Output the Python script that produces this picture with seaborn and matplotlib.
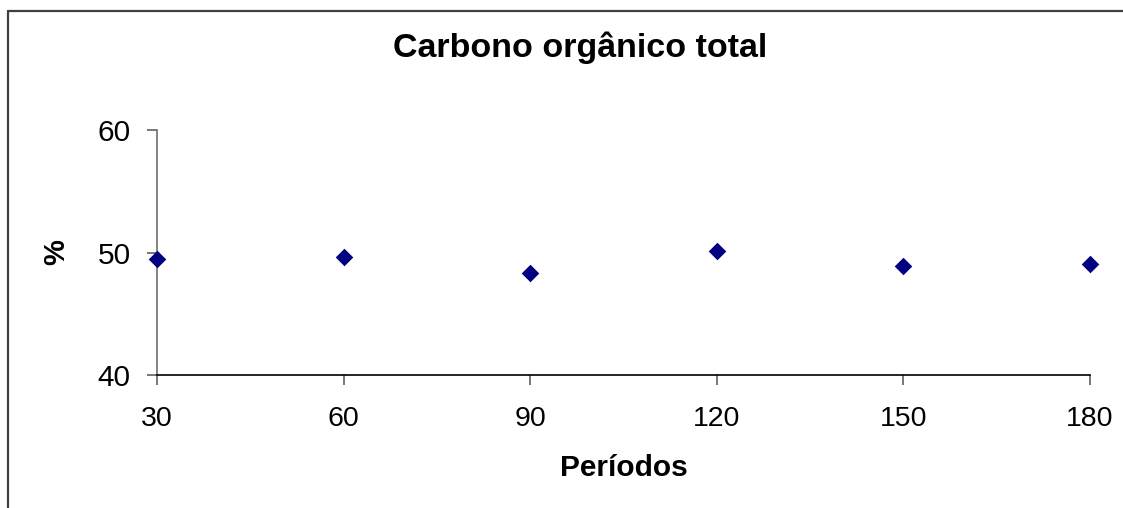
import matplotlib
matplotlib.use("Agg")
import matplotlib.pyplot as plt
import seaborn as sns
import pandas as pd
from matplotlib.lines import Line2D

# Total organic carbon (%) per period (days)
periodos = [30, 60, 90, 120, 150, 180]
carbono = [49.5, 49.65, 48.3, 50.1, 48.9, 49.05]

df = pd.DataFrame({"periodo": periodos, "carbono": carbono})

sns.set_style("white")
plt.rcParams["font.family"] = ["Liberation Sans", "DejaVu Sans"]
plt.rcParams["text.color"] = "black"
plt.rcParams["axes.labelcolor"] = "black"

fig = plt.figure(figsize=(11.23, 5.08), dpi=100)
ax = fig.add_axes([157 / 1123, 1 - 375 / 508, (1090 - 157) / 1123, (375 - 130) / 508])

sns.scatterplot(data=df, x="periodo", y="carbono", ax=ax, marker="D",
                s=80, color="#000080", edgecolor="#000080", linewidth=0,
                clip_on=False, zorder=3)

ax.set_xlim(30, 180)
ax.set_ylim(40, 60)
ax.set_xticks(periodos)
ax.set_yticks([40, 50, 60])
ax.tick_params(axis="both", labelcolor="black", length=7,
               width=1.2, direction="out")
ax.tick_params(axis="x", labelsize=20.5, pad=15, color="#606060")
ax.tick_params(axis="y", labelsize=21.5, pad=12, color="#606060")
ax.tick_params(bottom=True, left=True)

for side in ("top", "right"):
    ax.spines[side].set_visible(False)
ax.spines["left"].set_color("#707070")
ax.spines["left"].set_linewidth(1.2)
ax.spines["bottom"].set_color("black")
ax.spines["bottom"].set_linewidth(1.2)

ax.set_xlabel("Períodos", fontsize=21.5, fontweight="bold", labelpad=16)
ax.set_ylabel("%", fontsize=21, fontweight="bold")
ax.yaxis.set_label_coords((70 - 157) / 933, 0.5)

fig.text(580 / 1123, 1 - 48 / 508, "Carbono orgânico total", ha="center",
         va="center", fontsize=24.5, fontweight="bold")

# Outer frame of the chart area
x0 = 8 / 1123
y0 = 1 - 11 / 508
fig.add_artist(Line2D([x0, x0], [-0.01, y0], transform=fig.transFigure,
                      color="#404040", linewidth=1.6))
fig.add_artist(Line2D([x0, 1.01], [y0, y0], transform=fig.transFigure,
                      color="#404040", linewidth=1.6))

fig.savefig("out.png", dpi=100, facecolor="white")
